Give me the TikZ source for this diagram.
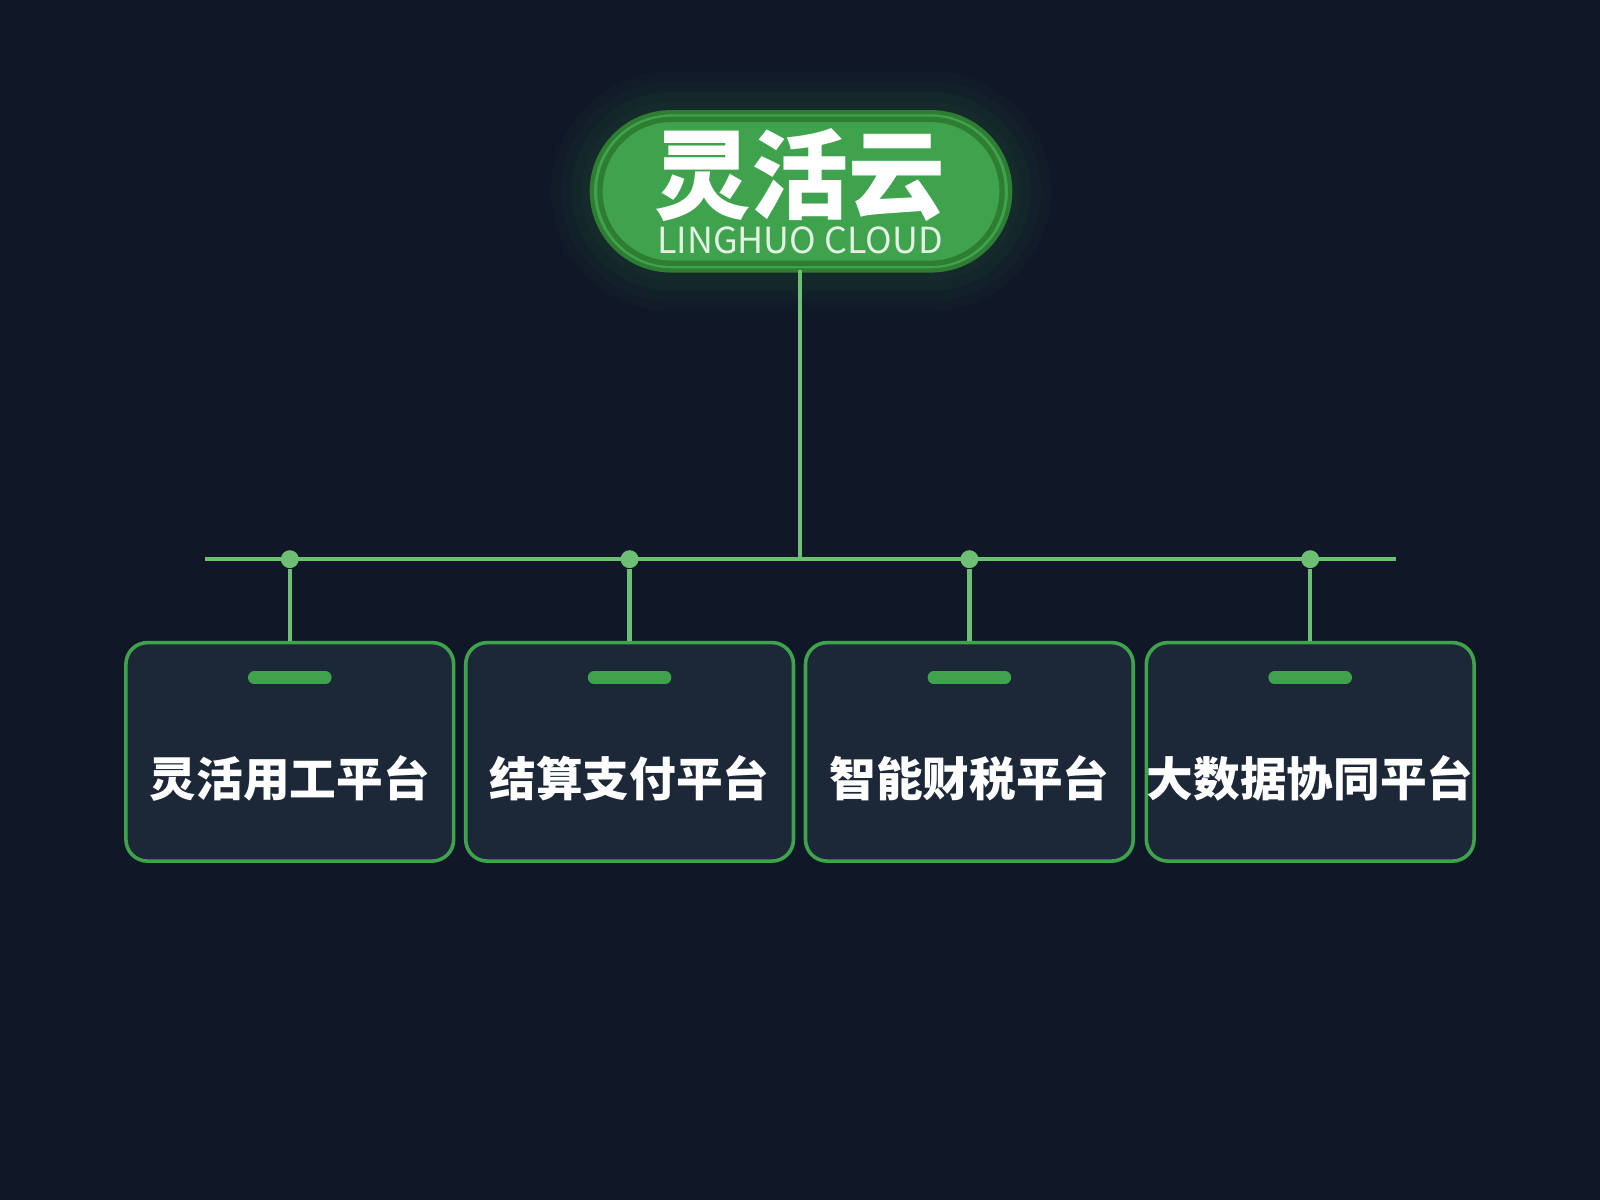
\documentclass[tikz,border=0pt]{standalone}
\usepackage{fontspec}
\newfontfamily\cjk{Noto Sans CJK SC}
\usepackage{tikz}
\usepackage{xcolor}
\definecolor{bgnavy}{HTML}{101727}
\definecolor{cardnavy}{HTML}{1C2738}
\definecolor{leafgreen}{HTML}{3FA34D}
\definecolor{darkgreen}{HTML}{2E7D32}
\definecolor{wiregreen}{HTML}{6DBF73}
\tikzset{
    title-pill/.style = {fill=leafgreen, draw=darkgreen, line width=1.2pt, rounded corners=0.775cm},
    platform-box/.style = {draw=leafgreen, fill=cardnavy, line width=1pt, rectangle, rounded corners=6pt,
        minimum width=3.21cm, minimum height=2.14cm, inner sep=0pt},
    platform-label/.style = {text=white, font=\cjk\bfseries\fontsize{13pt}{13pt}\selectfont},
    tag-bar/.style = {leafgreen, line width=3.4pt, line cap=round},
    wire/.style = {wiregreen, line width=1.2pt},
    joint/.style = {circle, fill=wiregreen, inner sep=0pt, minimum size=5pt},
}
\begin{document}
\begin{tikzpicture}[x=0.01cm, y=-0.01cm]
\fill[bgnavy] (0,0) rectangle (1568,1176);
\useasboundingbox (0,0) rectangle (1568,1176);
% glow behind the title
\foreach \g in {40,30,20,10}
    \fill[leafgreen, opacity=0.04, rounded corners=0.775cm+\g*0.01cm] (580-\g,110-\g) rectangle (990+\g,265+\g);
\fill[title-pill] (580,110) rectangle (990,265);
\draw[darkgreen, line width=1.5pt, rounded corners=0.7cm] (588,117) rectangle (982,258);
\node[text=white, font=\cjk\bfseries\fontsize{27pt}{27pt}\selectfont] (title) at (784,172) {灵活云};
\node[text=white!85!leafgreen, font=\cjk\fontsize{10pt}{10pt}\selectfont] (subtitle) at (784,236) {LINGHUO CLOUD};
\coordinate (root) at (784,265);
\coordinate (hub) at (784,548);
\coordinate (railL) at (201,548);
\coordinate (railR) at (1368,548);
\draw[wire] (root) -- (hub);
\draw[wire] (railL) -- (railR);
\foreach \x/\name/\txt in {284/p1/灵活用工平台, 617/p2/结算支付平台, 950/p3/智能财税平台, 1284/p4/大数据协同平台} {
    \node[platform-box, anchor=north] (\name) at (\x,628) {};
    \node[joint] (\name-joint) at (\x,548) {};
    \draw[wire] (\name-joint) -- (\name.north);
    \draw[tag-bar] (\x-35,664) -- (\x+35,664);
    \node[platform-label] (\name-label) at (\x,763) {\txt};
}
\end{tikzpicture}
\end{document}
